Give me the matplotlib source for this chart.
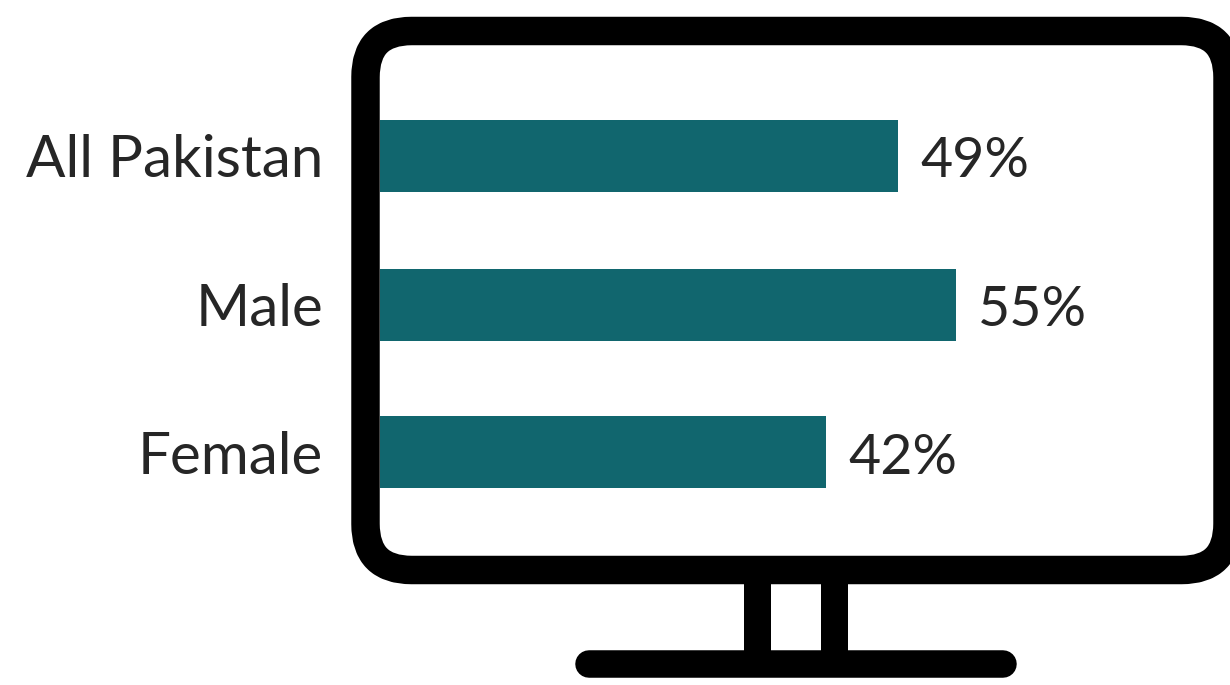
import matplotlib
matplotlib.use('Agg')
import matplotlib.pyplot as plt
from matplotlib.patches import FancyBboxPatch, Rectangle

# Share of respondents by group (bar lengths)
categories = ['All Pakistan', 'Male', 'Female']
values = [49.1, 54.6, 42.3]
value_labels = ['49%', '55%', '42%']

W, H = 1230, 685
BLACK = '#000000'
TEAL = '#11666e'
TEXT = '#262626'

plt.rcParams['font.family'] = ['Lato', 'DejaVu Sans']

fig = plt.figure(figsize=(W / 100, H / 100), dpi=100)

# background axes in pixel coords for the monitor drawing
bg = fig.add_axes([0, 0, 1, 1])
bg.set_xlim(0, W)
bg.set_ylim(H, 0)
bg.axis('off')

# screen frame, right edge runs off the canvas like the original
bg.add_patch(FancyBboxPatch((365.5, 31), 862, 539, boxstyle='round,pad=0,rounding_size=46',
                            fc='white', ec=BLACK, lw=20.5, joinstyle='round'))
# stand
bg.add_patch(Rectangle((744, 584), 27, 68, fc=BLACK, ec='none'))
bg.add_patch(Rectangle((821, 584), 27, 68, fc=BLACK, ec='none'))
bg.plot([589, 1003], [663.7, 663.7], color=BLACK, lw=19.8, solid_capstyle='round')
bg.set_xlim(0, W)
bg.set_ylim(H, 0)

# bar chart sitting inside the screen
ax = fig.add_axes([380 / W, 1 - 530 / H, 820 / W, 450 / H])
ax.patch.set_alpha(0)
px_per_pct = 10.55
ax.set_xlim(0, 820 / px_per_pct)
ax.set_ylim(450, 0)
y_pos = [75.5, 224.5, 372]
ax.barh(y_pos, values, height=72, color=TEAL)

ax.set_yticks(y_pos)
ax.set_yticklabels(categories, fontsize=42, color=TEXT)
ax.tick_params(axis='y', length=0, pad=41)
ax.set_xticks([])
for s in ax.spines.values():
    s.set_visible(False)

for y, v, lab in zip(y_pos, values, value_labels):
    ax.annotate(lab, (v, y), xytext=(22, -6), textcoords='offset pixels',
                va='center', ha='left', fontsize=40, color=TEXT)

fig.savefig('out.png', dpi=100)
